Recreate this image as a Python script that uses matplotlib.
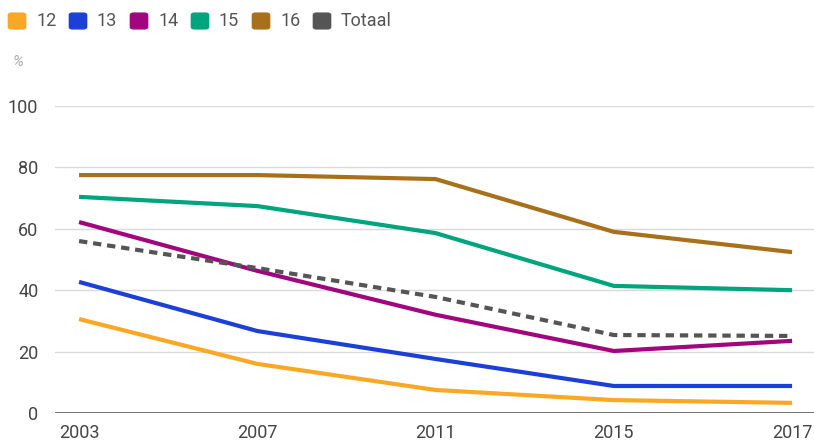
import matplotlib.pyplot as plt
from matplotlib.patches import FancyBboxPatch
import numpy as np

years = ['2003', '2007', '2011', '2015', '2017']
series_names = ['12', '13', '14', '15', '16', 'Totaal']
v12 = [30.6, 16.0, 7.5, 4.2, 3.3]
v13 = [42.7, 26.7, 17.6, 8.8, 8.8]
v14 = [62.2, 46.3, 32.0, 20.2, 23.5]
v15 = [70.4, 67.4, 58.6, 41.4, 40.0]
v16 = [77.5, 77.5, 76.2, 59.0, 52.4]
totaal = [56.0, 47.2, 37.8, 25.4, 25.1]
colors = ['#F9A825', '#1C3FD6', '#A1067F', '#00A47D', '#A8701A', '#555555']

plt.rcParams['font.family'] = ['Roboto', 'DejaVu Sans']

fig = plt.figure(figsize=(8.14, 4.46), dpi=100)
ax = fig.add_axes([55 / 814, 33 / 446, 759 / 814, 307 / 446])

x = np.arange(len(years))
all_vals = [v12, v13, v14, v15, v16, totaal]
for i, vals in enumerate(all_vals):
    if series_names[i] == 'Totaal':
        ax.plot(x, vals, color=colors[i], lw=3, dashes=(2, 1.4), zorder=3)
    else:
        ax.plot(x, vals, color=colors[i], lw=3, zorder=3, solid_capstyle='butt')

ax.set_xlim(-0.135, 4.123)
ax.set_ylim(0, 100)
ax.set_yticks([0, 20, 40, 60, 80, 100])
ax.set_xticks(x)
ax.set_xticklabels(years)
ax.grid(axis='y', color='#d9d9d9', lw=1)
ax.axhline(0, color='#666666', lw=2, zorder=2)
for s in ax.spines.values():
    s.set_visible(False)
ax.tick_params(axis='both', length=0, labelsize=13, labelcolor='#444444')
ax.tick_params(axis='y', pad=12)
ax.tick_params(axis='x', pad=8)

fig.text(13 / 814, 1 - 62 / 446, '%', fontsize=11, color='#aaaaaa', style='italic', va='center')

# legend
sq_x = [10, 71, 132, 193, 254, 315]
for i, name in enumerate(series_names):
    fig.patches.append(FancyBboxPatch((sq_x[i] / 814, 1 - 28 / 446), 14 / 814, 14 / 446,
                                      boxstyle='round,pad=0.002,rounding_size=0.004',
                                      transform=fig.transFigure, color=colors[i]))
    fig.text((sq_x[i] + 26) / 814, 1 - 21 / 446, name, fontsize=13, color='#555555', va='center')

fig.savefig('out.png', dpi=100)
